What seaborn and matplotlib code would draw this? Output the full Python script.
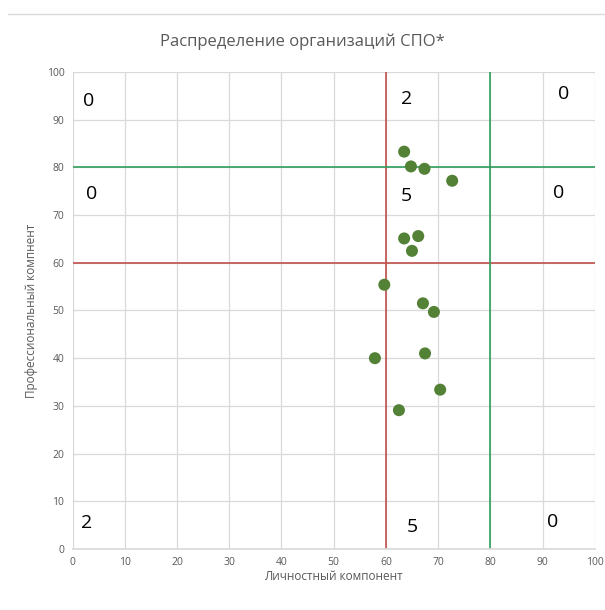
import matplotlib
matplotlib.use("Agg")
import matplotlib.pyplot as plt
import seaborn as sns
import pandas as pd
from matplotlib.lines import Line2D

# Data
personal = [63.5, 64.8, 67.4, 72.7, 63.5, 66.2, 65.0, 59.7, 67.1, 69.2, 57.9, 67.5, 70.4, 62.5]
professional = [83.3, 80.2, 79.7, 77.2, 65.1, 65.6, 62.5, 55.4, 51.5, 49.7, 40.0, 41.0, 33.4, 29.1]

# quadrant counts as written on the chart
count_labels = ["0", "2", "0", "0", "5", "0", "2", "5", "0"]
count_x = [3, 64, 94, 3.7, 64, 93, 2.6, 65, 92]
count_y = [94, 94.3, 95.4, 74.4, 74, 74.6, 5.5, 4.6, 5.7]

x_threshold = [60, 80]
y_threshold = [60, 80]
ticks = list(range(0, 101, 10))

df = pd.DataFrame({"personal": personal, "professional": professional})

sns.set_theme(style="white")
plt.rcParams["font.family"] = ["Open Sans", "DejaVu Sans"]

fig = plt.figure(figsize=(6.05, 6.1), dpi=100)
ax = fig.add_axes([0.12, 0.1, 0.863, 0.782])

grid_color = "#d9d9d9"
text_color = "#595959"

ax.set_xlim(0, 100)
ax.set_ylim(0, 100)
ax.set_xticks(ticks)
ax.set_yticks(ticks)
ax.grid(True, color=grid_color, linewidth=0.9)
ax.set_axisbelow(True)
for side in ["top", "right", "left"]:
    ax.spines[side].set_visible(False)
ax.spines["bottom"].set_color(grid_color)

# threshold lines
ax.axvline(x_threshold[0], color="#c0504d", linewidth=1.2)
ax.axhline(y_threshold[0], color="#c0504d", linewidth=1.2)
ax.axvline(x_threshold[1], color="#2e9e5b", linewidth=1.2)
ax.axhline(y_threshold[1], color="#2e9e5b", linewidth=1.2)

sns.scatterplot(data=df, x="personal", y="professional", ax=ax,
                color="#538135", s=75, edgecolor="none", zorder=3)

for lab, cx, cy in zip(count_labels, count_x, count_y):
    ax.text(cx, cy, lab, fontsize=14, color="black", ha="center", va="center")

ax.tick_params(axis="both", labelsize=7.5, colors=text_color, length=0, pad=6)
ax.set_xlabel("Личностный компонент", fontsize=8.5, color=text_color, labelpad=1)
ax.set_ylabel("Профессиональный компнент", fontsize=8.5, color=text_color, labelpad=6)

fig.suptitle("Распределение организаций СПО*", fontsize=12, color=text_color, y=0.945)

# light frame line at the top like the source screenshot
fig.add_artist(Line2D([0.013, 1.0], [0.977, 0.977], color="#d9d9d9", linewidth=1))

fig.savefig("out.png", dpi=100)
